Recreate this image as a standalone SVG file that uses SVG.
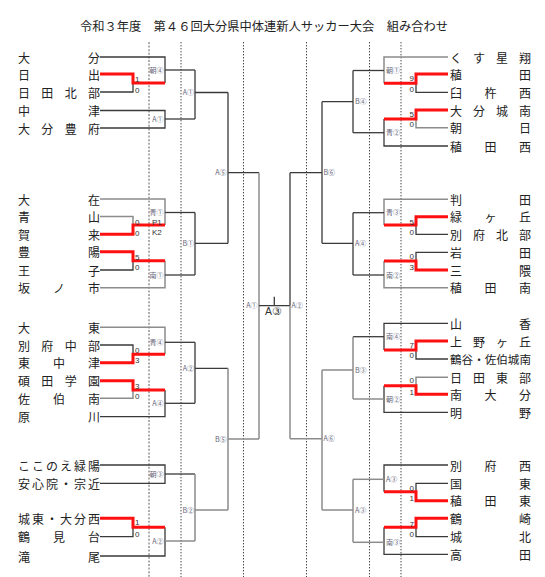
<svg xmlns="http://www.w3.org/2000/svg" width="545" height="577" viewBox="0 0 545 577">
<style>
.bg{fill:#ffffff}
.k{stroke:#3a3a3a;stroke-width:1.3;fill:none}
.g{stroke:#8c8c8c;stroke-width:1.5;fill:none}
.r{stroke:#ff1010;stroke-width:3;fill:none}
.d1{stroke:#9a9a9a;stroke-width:1.6;stroke-dasharray:2 1.6;fill:none}
.d2{stroke:#444;stroke-width:1;stroke-dasharray:1.4 1.6;fill:none}
.nm{font-family:"Noto Sans CJK JP","Noto Sans",sans-serif;font-size:12px;fill:#222}
.sc{font-family:"Liberation Sans",Arial,sans-serif;font-size:8px;fill:#333}
.lb{font-family:"Noto Sans CJK JP","Liberation Sans",sans-serif;font-size:7px;fill:#66667a}
.ti{font-family:"Noto Sans CJK JP",sans-serif;font-size:12px;fill:#222}
</style>
<rect class="bg" x="0" y="0" width="545" height="577"/>
<text class="ti" x="80" y="31" textLength="368" lengthAdjust="spacingAndGlyphs">令和３年度　第４６回大分県中体連新人サッカー大会　組み合わせ</text>

<g id="guides">
<path class="d1" d="M149 42V577"/>
<path class="d2" d="M181 42V577"/>
<path class="d2" d="M243.5 42V577"/>
<path class="d2" d="M306.5 42V577"/>
<path class="d2" d="M369.5 42V577"/>
<path class="d2" d="M401 42V577"/>
</g>

<g id="connectors">
<!-- left block 1 -->
<path class="k" d="M100 57H165V83"/>
<path class="k" d="M100 92H133V83"/>
<path class="r" d="M100 74H133V83H165"/>
<path class="k" d="M165 70H195"/>
<path class="k" d="M100 110.5H165V128H100"/>
<path class="k" d="M165 119H195"/>
<path class="k" d="M195 70V119M195 92.5H228"/>
<!-- left block 2 -->
<path class="g" d="M100 199H165V225"/>
<path class="g" d="M100 216.5H133V225"/>
<path class="r" d="M100 234.3H133V225H165"/>
<path class="k" d="M165 212.5H195"/>
<path class="k" d="M100 270H133V260.7"/>
<path class="g" d="M100 287.7H165V260.7"/>
<path class="r" d="M100 251.7H133V260.7H165"/>
<path class="k" d="M165 275H195"/>
<path class="k" d="M195 212.5V275M195 243.3H228"/>
<!-- left block 3 -->
<path class="g" d="M100 327.3H165V354.3"/>
<path class="k" d="M100 345H133V354.3"/>
<path class="r" d="M100 362.7H133V354.3H165"/>
<path class="k" d="M165 342.3H195"/>
<path class="g" d="M100 398.3H133V390"/>
<path class="k" d="M100 416.7H165V390"/>
<path class="r" d="M100 380.7H133V390H165"/>
<path class="k" d="M165 403.3H195"/>
<path class="k" d="M195 342.3V403.3M195 368.3H228"/>
<!-- left block 4 -->
<path class="k" d="M100 465H165V483.3H100"/>
<path class="k" d="M165 474H195"/>
<path class="k" d="M100 536.7H133V527.3"/>
<path class="k" d="M100 556H165V527.3"/>
<path class="r" d="M100 518.3H133V527.3H165"/>
<path class="g" d="M165 541H195"/>
<path class="g" d="M195 474V541M195 510H228"/>
<!-- center -->
<path class="k" d="M228 92.5V243.3M228 172.7H259"/>
<path class="g" d="M228 368.3V510M228 439H259"/>
<path class="g" d="M259 172.7V439"/>
<path class="k" d="M259 305.7H290M274.3 296.7V305.7"/>
<path class="k" d="M290 172.7V305.7"/>
<path class="g" d="M290 305.7V438.7"/>
<path class="k" d="M290 172.7H322M322 101.7V243.3"/>
<path class="g" d="M290 438.7H322M322 370V510"/>
<!-- right block 1 -->
<path class="g" d="M448 57H384V83.3"/>
<path class="k" d="M448 92.3H416V83.3"/>
<path class="r" d="M448 74H416V83.3H384"/>
<path class="k" d="M384 70.5H353"/>
<path class="g" d="M448 127.7H416V119"/>
<path class="k" d="M448 146H384V119"/>
<path class="r" d="M448 110H416V119H384"/>
<path class="k" d="M384 132.7H353"/>
<path class="k" d="M353 70.5V132.7M353 101.7H322"/>
<!-- right block 2 -->
<path class="g" d="M448 199.3H384V225"/>
<path class="k" d="M448 234.3H416V225"/>
<path class="r" d="M448 216.7H416V225H384"/>
<path class="k" d="M384 212.7H353"/>
<path class="k" d="M448 252.3H416V261"/>
<path class="g" d="M448 287.7H384V261"/>
<path class="r" d="M448 270H416V261H384"/>
<path class="k" d="M384 275H353"/>
<path class="k" d="M353 212.7V275M353 243.3H322"/>
<!-- right block 3 -->
<path class="k" d="M448 323.3H384V350"/>
<path class="k" d="M448 359H416V350"/>
<path class="r" d="M448 341H416V350H384"/>
<path class="k" d="M384 336.7H353"/>
<path class="g" d="M448 377.3H416V385.7"/>
<path class="k" d="M448 412.3H384V385.7"/>
<path class="r" d="M448 394.3H416V385.7H384"/>
<path class="g" d="M384 399H353"/>
<path class="g" d="M353 336.7V399M353 370H322"/>
<!-- right block 4 -->
<path class="k" d="M448 465H384V491.7"/>
<path class="k" d="M448 483.3H416V491.7"/>
<path class="r" d="M448 500.7H416V491.7H384"/>
<path class="g" d="M384 479.3H353"/>
<path class="k" d="M448 536.7H416V527.3"/>
<path class="k" d="M448 554.3H384V527.3"/>
<path class="r" d="M448 518.3H416V527.3H384"/>
<path class="g" d="M384 542.3H353"/>
<path class="g" d="M353 479.3V542.3M353 510H322"/>
</g>

<g id="scores">
<text class="sc" x="135" y="82">1</text><text class="sc" x="135" y="93">0</text>
<text class="sc" x="135" y="224.7">0</text><text class="sc" x="135" y="235.7">0</text>
<text class="sc" x="152" y="224.7">P1</text><text class="sc" x="152" y="234.7">K2</text>
<text class="sc" x="135" y="260.3">5</text><text class="sc" x="135" y="270.3">0</text>
<text class="sc" x="135" y="353">0</text><text class="sc" x="135" y="363">3</text>
<text class="sc" x="135" y="389">3</text><text class="sc" x="135" y="399">0</text>
<text class="sc" x="135" y="524.7">1</text><text class="sc" x="135" y="537">0</text>
<g text-anchor="end">
<text class="sc" x="414" y="80.5">9</text><text class="sc" x="414" y="92">0</text>
<text class="sc" x="414" y="117">5</text><text class="sc" x="414" y="127">0</text>
<text class="sc" x="414" y="224.7">5</text><text class="sc" x="414" y="234.7">0</text>
<text class="sc" x="414" y="259">0</text><text class="sc" x="414" y="270.3">3</text>
<text class="sc" x="414" y="348">7</text><text class="sc" x="414" y="358">0</text>
<text class="sc" x="414" y="383">0</text><text class="sc" x="414" y="394.7">1</text>
<text class="sc" x="414" y="491.3">0</text><text class="sc" x="414" y="501.3">1</text>
<text class="sc" x="414" y="527">7</text><text class="sc" x="414" y="537">0</text>
</g>
</g>

<g id="labels">
<g text-anchor="end">
<text class="lb" x="163.5" y="72.5">朝④</text>
<text class="lb" x="163.5" y="121.5">A①</text>
<text class="lb" x="163.5" y="215">青①</text>
<text class="lb" x="163.5" y="277.5">南①</text>
<text class="lb" x="163.5" y="344.8">青④</text>
<text class="lb" x="163.5" y="405.8">A④</text>
<text class="lb" x="163.5" y="476.5">朝③</text>
<text class="lb" x="163.5" y="543.5">A②</text>
<text class="lb" x="194" y="95">A①</text>
<text class="lb" x="194" y="245.8">B①</text>
<text class="lb" x="194" y="370.8">A②</text>
<text class="lb" x="194" y="512.5">B②</text>
<text class="lb" x="226.5" y="175.2">A⑤</text>
<text class="lb" x="226.5" y="441.5">B⑤</text>
<text class="lb" x="257.5" y="308.2">A①</text>
</g>
<text class="lb" x="291.5" y="308.2">A②</text>
<text class="lb" x="323.5" y="175.2">B⑥</text>
<text class="lb" x="323.5" y="441.2">A⑥</text>
<text class="lb" x="355" y="104.2">B④</text>
<text class="lb" x="355" y="245.8">A④</text>
<text class="lb" x="355" y="372.5">B③</text>
<text class="lb" x="355" y="512.5">A③</text>
<text class="lb" x="386" y="73">朝①</text>
<text class="lb" x="386" y="135.2">青②</text>
<text class="lb" x="386" y="215.2">青③</text>
<text class="lb" x="386" y="277.5">南②</text>
<text class="lb" x="386" y="339.2">南④</text>
<text class="lb" x="386" y="401.5">朝②</text>
<text class="lb" x="386" y="481.8">A③</text>
<text class="lb" x="386" y="544.8">南③</text>
<text x="265" y="315" style="font-family:'Liberation Sans',Arial,sans-serif;font-size:10.5px;fill:#333">A③</text>
</g>

<g id="L01"><text class="nm" x="18" y="62.5" textLength="82" lengthAdjust="spacing">大分</text></g>
<g id="L02"><text class="nm" x="18" y="79.5" textLength="82" lengthAdjust="spacing">日出</text></g>
<g id="L03"><text class="nm" x="18" y="97.5" textLength="82" lengthAdjust="spacing">日田北部</text></g>
<g id="L04"><text class="nm" x="18" y="116" textLength="82" lengthAdjust="spacing">中津</text></g>
<g id="L05"><text class="nm" x="18" y="133.5" textLength="82" lengthAdjust="spacing">大分豊府</text></g>
<g id="L06"><text class="nm" x="18" y="204.5" textLength="82" lengthAdjust="spacing">大在</text></g>
<g id="L07"><text class="nm" x="18" y="222" textLength="82" lengthAdjust="spacing">青山</text></g>
<g id="L08"><text class="nm" x="18" y="239.8" textLength="82" lengthAdjust="spacing">賀来</text></g>
<g id="L09"><text class="nm" x="18" y="257.2" textLength="82" lengthAdjust="spacing">豊陽</text></g>
<g id="L10"><text class="nm" x="18" y="275.5" textLength="82" lengthAdjust="spacing">王子</text></g>
<g id="L11"><text class="nm" x="18" y="293.2" textLength="82" lengthAdjust="spacing">坂ノ市</text></g>
<g id="L12"><text class="nm" x="18" y="332.8" textLength="82" lengthAdjust="spacing">大東</text></g>
<g id="L13"><text class="nm" x="18" y="350.5" textLength="82" lengthAdjust="spacing">別府中部</text></g>
<g id="L14"><text class="nm" x="18" y="368.2" textLength="82" lengthAdjust="spacing">東中津</text></g>
<g id="L15"><text class="nm" x="18" y="386.2" textLength="82" lengthAdjust="spacing">碩田学園</text></g>
<g id="L16"><text class="nm" x="18" y="403.8" textLength="82" lengthAdjust="spacing">佐伯南</text></g>
<g id="L17"><text class="nm" x="18" y="422.2" textLength="82" lengthAdjust="spacing">原川</text></g>
<g id="L18"><text class="nm" x="18" y="470.5" textLength="82" lengthAdjust="spacing">ここのえ緑陽</text></g>
<g id="L19"><text class="nm" x="18" y="488.8" textLength="82" lengthAdjust="spacing">安心院・宗近</text></g>
<g id="L20"><text class="nm" x="18" y="523.8" textLength="82" lengthAdjust="spacing">城東・大分西</text></g>
<g id="L21"><text class="nm" x="18" y="542.2" textLength="82" lengthAdjust="spacing">鶴見台</text></g>
<g id="L22"><text class="nm" x="18" y="561.5" textLength="82" lengthAdjust="spacing">滝尾</text></g>

<g id="R01"><text class="nm" x="450" y="62.5" textLength="81" lengthAdjust="spacing">くす星翔</text></g>
<g id="R02"><text class="nm" x="450" y="79.5" textLength="81" lengthAdjust="spacing">稙田</text></g>
<g id="R03"><text class="nm" x="450" y="97.8" textLength="81" lengthAdjust="spacing">臼杵西</text></g>
<g id="R04"><text class="nm" x="450" y="115.5" textLength="81" lengthAdjust="spacing">大分城南</text></g>
<g id="R05"><text class="nm" x="450" y="133.2" textLength="81" lengthAdjust="spacing">朝日</text></g>
<g id="R06"><text class="nm" x="450" y="151.5" textLength="81" lengthAdjust="spacing">稙田西</text></g>
<g id="R07"><text class="nm" x="450" y="204.8" textLength="81" lengthAdjust="spacing">判田</text></g>
<g id="R08"><text class="nm" x="450" y="222.2" textLength="81" lengthAdjust="spacing">緑ヶ丘</text></g>
<g id="R09"><text class="nm" x="450" y="239.8" textLength="81" lengthAdjust="spacing">別府北部</text></g>
<g id="R10"><text class="nm" x="450" y="257.8" textLength="81" lengthAdjust="spacing">岩田</text></g>
<g id="R11"><text class="nm" x="450" y="275.5" textLength="81" lengthAdjust="spacing">三隈</text></g>
<g id="R12"><text class="nm" x="450" y="293.2" textLength="81" lengthAdjust="spacing">稙田南</text></g>
<g id="R13"><text class="nm" x="450" y="328.8" textLength="81" lengthAdjust="spacing">山香</text></g>
<g id="R14"><text class="nm" x="450" y="346.5" textLength="81" lengthAdjust="spacing">上野ヶ丘</text></g>
<g id="R15"><text class="nm" x="450" y="364" textLength="81" lengthAdjust="spacingAndGlyphs" style="font-size:11.5px">鶴谷・佐伯城南</text></g>
<g id="R16"><text class="nm" x="450" y="382.8" textLength="81" lengthAdjust="spacing">日田東部</text></g>
<g id="R17"><text class="nm" x="450" y="399.8" textLength="81" lengthAdjust="spacing">南大分</text></g>
<g id="R18"><text class="nm" x="450" y="417.8" textLength="81" lengthAdjust="spacing">明野</text></g>
<g id="R19"><text class="nm" x="450" y="470.5" textLength="81" lengthAdjust="spacing">別府西</text></g>
<g id="R20"><text class="nm" x="450" y="488.8" textLength="81" lengthAdjust="spacing">国東</text></g>
<g id="R21"><text class="nm" x="450" y="506.2" textLength="81" lengthAdjust="spacing">稙田東</text></g>
<g id="R22"><text class="nm" x="450" y="523.8" textLength="81" lengthAdjust="spacing">鶴崎</text></g>
<g id="R23"><text class="nm" x="450" y="542.2" textLength="81" lengthAdjust="spacing">城北</text></g>
<g id="R24"><text class="nm" x="450" y="559.8" textLength="81" lengthAdjust="spacing">高田</text></g>
</svg>
